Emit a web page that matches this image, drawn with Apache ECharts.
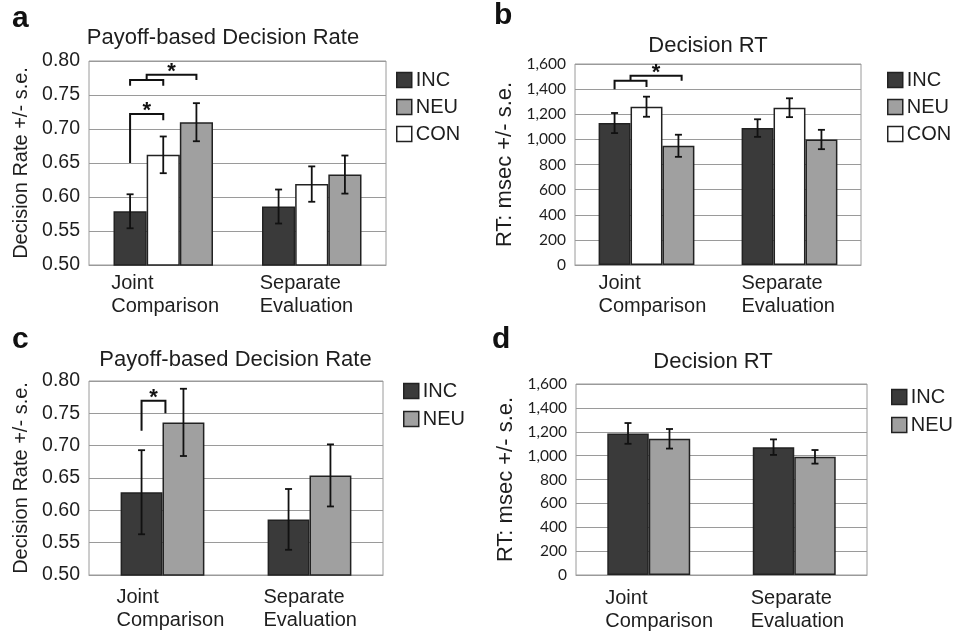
<!DOCTYPE html>
<html>
<head>
<meta charset="utf-8">
<script src="https://cdn.jsdelivr.net/npm/echarts@6/dist/echarts.min.js"></script>
<style>
html,body{margin:0;padding:0;background:#fff;}
#chart{width:957px;height:632px;}
</style>
</head>
<body>
<div id="chart"></div>
<script>
// ---- data ----
const categories = ['Joint Comparison', 'Separate Evaluation'];
const rateTicks = [0.50, 0.55, 0.60, 0.65, 0.70, 0.75, 0.80];
const rtTicks = [0, 200, 400, 600, 800, 1000, 1200, 1400, 1600];

// Panel a: payoff-based decision rate (3 conditions)
const aINC = [0.579, 0.586];  const aINCse = [0.025, 0.025];
const aCON = [0.662, 0.619];  const aCONse = [0.027, 0.026];
const aNEU = [0.710, 0.633];  const aNEUse = [0.028, 0.028];
// Panel b: decision RT (3 conditions)
const bINC = [1130, 1090];    const bINCse = [80, 70];
const bCON = [1260, 1252];    const bCONse = [80, 75];
const bNEU = [949, 999];      const bNEUse = [88, 77];
// Panel c: payoff-based decision rate (2 conditions)
const cINC = [0.628, 0.586];  const cINCse = [0.065, 0.047];
const cNEU = [0.736, 0.654];  const cNEUse = [0.052, 0.048];
// Panel d: decision RT (2 conditions)
const dINC = [1186, 1071];    const dINCse = [87, 65];
const dNEU = [1141, 990];     const dNEUse = [82, 57];

// significance brackets: [category, barPosStart, barPosEnd, yLeftLeg, yRightLeg, yTop, star]
const aBrackets = [[0, 0, 1, 0.650, 0.713, 0.722, 1], [0, 0, 1, 0.7635, 0.7635, 0.772, 0], [0, 0.5, 2, 0.772, 0.772, 0.7797, 1]];
const bBrackets = [[0, 0, 1, 1400, 1416, 1467, 0], [0, 0.5, 2.1, 1467, 1467, 1507, 1]];
const cBrackets = [[0, 0, 0.57, 0.7232, 0.750, 0.7696, 1]];

// ---- style ----
const FONT = '"Liberation Sans", Arial, sans-serif';
const TEXT = '#1e1e1e';
const COL = { INC: '#3a3a3a', NEU: '#a0a0a0', CON: '#ffffff' };

const chart = echarts.init(document.getElementById('chart'), null, { renderer: 'canvas' });

const panels = [
  { key: 'a', grid: { left: 89, top: 61, width: 297, height: 204 }, gap: 0.33, rate: true,
    series: [['INC', aINC, aINCse], ['CON', aCON, aCONse], ['NEU', aNEU, aNEUse]],
    legend: ['INC', 'NEU', 'CON'], legendPos: { left: 396, top: 70, itemGap: 7 }, brackets: aBrackets,
    labelW: 104, labelMargin: 7, nameGap: 58 },
  { key: 'b', grid: { left: 575, top: 64, width: 286, height: 201 }, gap: 0.33, rate: false,
    series: [['INC', bINC, bINCse], ['CON', bCON, bCONse], ['NEU', bNEU, bNEUse]],
    legend: ['INC', 'NEU', 'CON'], legendPos: { left: 887, top: 70, itemGap: 7 }, brackets: bBrackets,
    labelW: 96, labelMargin: 7, nameGap: 59 },
  { key: 'c', grid: { left: 89, top: 381, width: 294, height: 194 }, gap: 0.43, rate: true,
    series: [['INC', cINC, cINCse], ['NEU', cNEU, cNEUse]],
    legend: ['INC', 'NEU'], legendPos: { left: 403, top: 381, itemGap: 8 }, brackets: cBrackets,
    labelW: 92, labelMargin: 11, nameGap: 58 },
  { key: 'd', grid: { left: 576, top: 384, width: 291, height: 191 }, gap: 0.43, rate: false,
    series: [['INC', dINC, dINCse], ['NEU', dNEU, dNEUse]],
    legend: ['INC', 'NEU'], legendPos: { left: 891, top: 387, itemGap: 8 }, brackets: [],
    labelW: 87, labelMargin: 12, nameGap: 59 }
];

function commas(v) { return String(v).replace(/\B(?=(\d{3})+(?!\d))/g, ','); }

const option = {
  animation: false,
  textStyle: { fontFamily: FONT, color: TEXT },
  grid: [], xAxis: [], yAxis: [], legend: [], series: [],
  graphic: []
};

panels.forEach((p, pi) => {
  option.grid.push(Object.assign({ show: true, borderColor: '#9a9a9a', borderWidth: 1, backgroundColor: '#fff', containLabel: false }, p.grid));
  option.xAxis.push({
    type: 'category', gridIndex: pi, data: categories,
    axisLine: { show: true, lineStyle: { color: '#9a9a9a', width: 1 } },
    axisTick: { show: false },
    axisLabel: {
      interval: 0, margin: p.labelMargin,
      formatter: v => v.split(' ').map(w => '{l|' + w + '}').join('\n'),
      rich: { l: { width: p.labelW, align: 'left', fontSize: 20, lineHeight: 23, fontFamily: FONT, color: TEXT } }
    }
  });
  const ticks = p.rate ? rateTicks : rtTicks;
  option.yAxis.push({
    type: 'value', gridIndex: pi,
    min: ticks[0], max: ticks[ticks.length - 1], interval: ticks[1] - ticks[0],
    name: p.rate ? 'Decision Rate +/- s.e.' : 'RT: msec +/- s.e.',
    nameLocation: 'middle', nameRotate: 90, nameGap: p.nameGap,
    nameTextStyle: { fontSize: p.rate ? 20 : 22, fontFamily: FONT, color: TEXT },
    axisLine: { show: false }, axisTick: { show: false },
    splitLine: { show: true, lineStyle: { color: '#9a9a9a', width: 1 } },
    axisLabel: p.rate
      ? { margin: 9, fontSize: 19.5, fontFamily: FONT, color: TEXT, formatter: v => v.toFixed(2) }
      : { margin: 9, fontSize: 15.5, fontFamily: 'Lato, "Liberation Sans", sans-serif', color: TEXT, formatter: v => commas(v) }
  });
  option.legend.push({
    orient: 'vertical', left: p.legendPos.left, top: p.legendPos.top, itemGap: p.legendPos.itemGap,
    padding: 0, itemWidth: 15, itemHeight: 15, icon: 'rect', selectedMode: false,
    data: p.legend,
    itemStyle: { borderColor: '#222', borderWidth: 1.5 },
    textStyle: { fontSize: 20, lineHeight: 20, fontFamily: FONT, color: TEXT, padding: [0, 0, 0, -1] }
  });
  const n = p.series.length;
  p.series.forEach((s, si) => {
    option.series.push({
      name: s[0], type: 'bar', xAxisIndex: pi, yAxisIndex: pi,
      data: s[1], barGap: '0%', barCategoryGap: (p.gap * 100) + '%',
      itemStyle: { color: COL[s[0]], borderColor: '#222', borderWidth: 1.5 },
      z: 2
    });
  });
  // error bars
  p.series.forEach((s, si) => {
    option.series.push({
      type: 'custom', xAxisIndex: pi, yAxisIndex: pi, z: 10, silent: true,
      data: s[1].map((v, i) => [i, v - s[2][i], v + s[2][i]]),
      encode: { x: 0, y: [1, 2] },
      renderItem: (params, api) => {
        const c = api.value(0);
        const lo = api.coord([c, api.value(1)]);
        const hi = api.coord([c, api.value(2)]);
        const band = api.size([1, 0])[0];
        const bw = band * (1 - p.gap) / n;
        const x = lo[0] + (si - (n - 1) / 2) * bw;
        const hw = 3.5;
        const st = { stroke: '#111', lineWidth: 1.8 };
        return { type: 'group', children: [
          { type: 'line', shape: { x1: x, y1: lo[1], x2: x, y2: hi[1] }, style: st },
          { type: 'line', shape: { x1: x - hw, y1: lo[1], x2: x + hw, y2: lo[1] }, style: st },
          { type: 'line', shape: { x1: x - hw, y1: hi[1], x2: x + hw, y2: hi[1] }, style: st }
        ] };
      }
    });
  });
  // significance brackets
  if (p.brackets.length) {
    option.series.push({
      type: 'custom', xAxisIndex: pi, yAxisIndex: pi, z: 11, silent: true,
      data: p.brackets,
      encode: { x: 0, y: [3, 4, 5] },
      renderItem: (params, api) => {
        const c = api.value(0);
        const band = api.size([1, 0])[0];
        const bw = band * (1 - p.gap) / n;
        const cx = api.coord([c, api.value(5)])[0];
        const x1 = cx + (api.value(1) - (n - 1) / 2) * bw;
        const x2 = cx + (api.value(2) - (n - 1) / 2) * bw;
        const yl = api.coord([c, api.value(3)])[1];
        const yr = api.coord([c, api.value(4)])[1];
        const yt = api.coord([c, api.value(5)])[1];
        const kids = [{ type: 'polyline', shape: { points: [[x1, yl], [x1, yt], [x2, yt], [x2, yr]] },
          style: { stroke: '#111', lineWidth: 2, fill: null } }];
        if (api.value(6)) {
          kids.push({ type: 'text', style: { text: '*', x: (x1 + x2) / 2, y: yt - 3, align: 'center', verticalAlign: 'middle',
            font: 'bold 22px ' + FONT, fill: '#111' } });
        }
        return { type: 'group', children: kids };
      }
    });
  }
});

// panel letters and titles
const letters = [['a', 12, 19], ['b', 494, 16], ['c', 12, 340], ['d', 492, 340]];
letters.forEach(l => option.graphic.push({ type: 'text', left: l[1], top: l[2] - 15,
  style: { text: l[0], font: 'bold 30px ' + FONT, fill: '#111' } }));
const titles = [['Payoff-based Decision Rate', 223, 38], ['Decision RT', 708, 46],
                ['Payoff-based Decision Rate', 235.5, 360], ['Decision RT', 713, 362]];
titles.forEach(t => option.graphic.push({ type: 'text', x: t[1], y: t[2],
  style: { text: t[0], font: '22px ' + FONT, fill: TEXT, align: 'center', verticalAlign: 'middle' } }));

chart.setOption(option);
</script>
</body>
</html>
